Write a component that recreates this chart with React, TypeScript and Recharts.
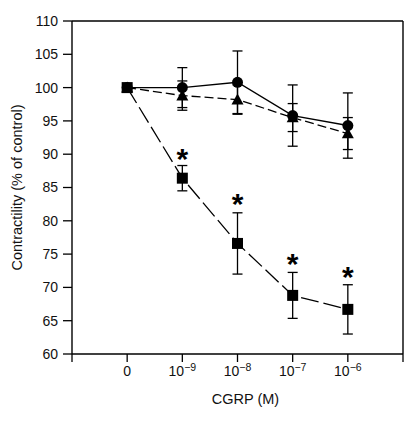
import React from 'react';
import {
  ComposedChart,
  Line,
  XAxis,
  YAxis,
  ErrorBar,
  ReferenceLine,
} from 'recharts';

// dose index: 0 = control, then 1e-9 .. 1e-6 M
const DOSES = [0, 1, 2, 3, 4];
const DOSE_EXPONENTS: (number | null)[] = [null, -9, -8, -7, -6];

const CIRCLE = [100, 100.0, 100.8, 95.8, 94.3];
const CIRCLE_SEM = [0, 3.0, 4.7, 4.6, 4.9];

const TRIANGLE = [100, 98.8, 98.2, 95.5, 93.1];
const TRIANGLE_SEM = [0, 2.2, 2.2, 2.1, 2.4];

const SQUARE = [100, 86.4, 76.6, 68.8, 66.7];
const SQUARE_SEM = [0, 1.9, 4.6, 3.45, 3.7];

// asterisk (significance) marks above the square series
const STAR: (number | null)[] = [null, 89.8, 83.0, 74.0, 72.0];

const Y_TICKS = [60, 65, 70, 75, 80, 85, 90, 95, 100, 105, 110];
const X_TICKS = [-1, 0, 1, 2, 3, 4, 5];

const FONT = '"Liberation Sans", Arial, Helvetica, sans-serif';

const rows = DOSES.map((x, i) => ({
  x,
  circle: CIRCLE[i],
  circleErr: CIRCLE_SEM[i],
  tri: TRIANGLE[i],
  triErr: TRIANGLE_SEM[i],
  sq: SQUARE[i],
  sqErr: SQUARE_SEM[i],
  star: STAR[i],
}));

function DoseTick(props: any) {
  const { x, y, payload } = props;
  const idx = DOSES.indexOf(payload.value);
  if (idx < 0) return null;
  const exp = DOSE_EXPONENTS[idx];
  return (
    <text x={x} y={y + 12} textAnchor="middle" fontSize={14} fontFamily={FONT} fill="#111">
      {exp === null ? (
        '0'
      ) : (
        <>
          <tspan>10</tspan>
          <tspan dy={-5} fontSize={10.5}>{`\u2212${Math.abs(exp)}`}</tspan>
        </>
      )}
    </text>
  );
}

const CircleDot = (p: any) =>
  p.cy == null ? null : <circle key={`c${p.index}`} cx={p.cx} cy={p.cy} r={5.5} fill="#000" />;

const TriangleDot = (p: any) => {
  if (p.cy == null) return null;
  const s = 6;
  return (
    <path
      key={`t${p.index}`}
      d={`M${p.cx},${p.cy - s} L${p.cx + s},${p.cy + s * 0.8} L${p.cx - s},${p.cy + s * 0.8} Z`}
      fill="#000"
    />
  );
};

const SquareDot = (p: any) =>
  p.cy == null ? null : (
    <rect key={`s${p.index}`} x={p.cx - 5.5} y={p.cy - 5.5} width={11} height={11} fill="#000" />
  );

const StarDot = (p: any) =>
  p.cy == null || p.value == null ? null : (
    <text
      key={`a${p.index}`}
      x={p.cx}
      y={p.cy + 13}
      textAnchor="middle"
      fontSize={30}
      fontWeight="bold"
      fontFamily={FONT}
      fill="#000"
    >
      *
    </text>
  );

export default function App() {
  return (
    <div style={{ position: 'absolute', left: 0, top: 0, width: 411, height: 422, background: '#fff' }}>
      <ComposedChart
        width={411}
        height={422}
        data={rows}
        margin={{ top: 21, right: 8, bottom: 22, left: 0 }}
      >
        <XAxis
          dataKey="x"
          type="number"
          domain={[-1, 5]}
          ticks={X_TICKS}
          interval={0}
          tick={<DoseTick />}
          tickSize={8}
          height={46}
          axisLine={{ stroke: '#000', strokeWidth: 1.4 }}
          tickLine={{ stroke: '#000', strokeWidth: 1.3 }}
          label={{
            value: 'CGRP (M)',
            position: 'insideBottom',
            offset: 0,
            dx: 8,
            dy: 4,
            fontSize: 14.5,
            fontFamily: FONT,
            fill: '#111',
          }}
        />
        <YAxis
          type="number"
          domain={[60, 110]}
          ticks={Y_TICKS}
          interval={0}
          width={72}
          tickSize={9}
          tickMargin={5}
          tick={{ fontSize: 14, fontFamily: FONT, fill: '#111' }}
          axisLine={{ stroke: '#000', strokeWidth: 1.4 }}
          tickLine={{ stroke: '#000', strokeWidth: 1.3 }}
          label={{
            value: 'Contractility (% of control)',
            angle: -90,
            position: 'insideLeft',
            offset: 0,
            dx: 17,
            style: { textAnchor: 'middle' },
            fontSize: 14.5,
            fontFamily: FONT,
            fill: '#111',
          }}
        />
        <ReferenceLine y={110} stroke="#000" strokeWidth={1.4} />
        <ReferenceLine x={5} stroke="#000" strokeWidth={1.4} />

        <Line
          dataKey="sq"
          stroke="#000"
          strokeWidth={1.3}
          strokeDasharray="18 5"
          dot={SquareDot}
          activeDot={false}
          isAnimationActive={false}
        >
          <ErrorBar dataKey="sqErr" width={5} stroke="#000" strokeWidth={1.3} direction="y" />
        </Line>
        <Line
          dataKey="tri"
          stroke="#000"
          strokeWidth={1.3}
          strokeDasharray="9 4"
          dot={TriangleDot}
          activeDot={false}
          isAnimationActive={false}
        >
          <ErrorBar dataKey="triErr" width={5} stroke="#000" strokeWidth={1.3} direction="y" />
        </Line>
        <Line
          dataKey="circle"
          stroke="#000"
          strokeWidth={1.4}
          dot={CircleDot}
          activeDot={false}
          isAnimationActive={false}
        >
          <ErrorBar dataKey="circleErr" width={5} stroke="#000" strokeWidth={1.3} direction="y" />
        </Line>
        <Line
          dataKey="star"
          stroke="none"
          dot={StarDot}
          activeDot={false}
          legendType="none"
          isAnimationActive={false}
        />
      </ComposedChart>
    </div>
  );
}
